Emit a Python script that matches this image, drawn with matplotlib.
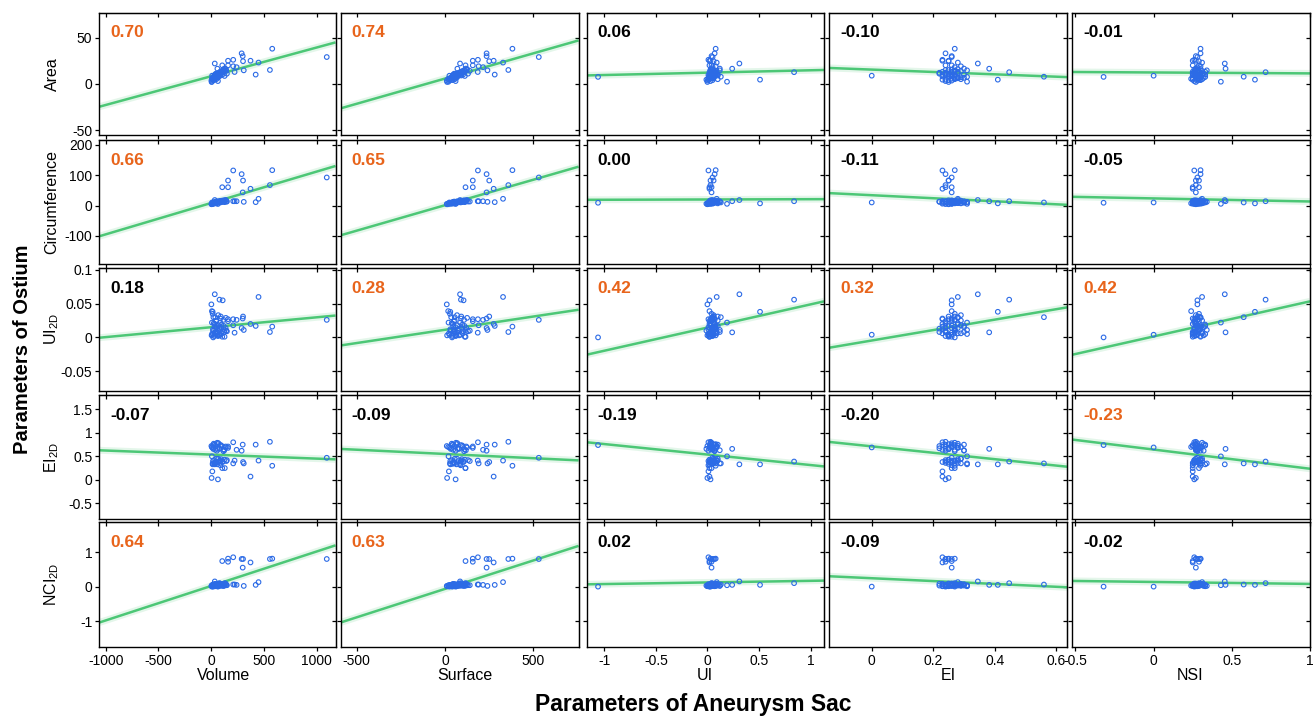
import numpy as np
import matplotlib
matplotlib.use('Agg')
import matplotlib.pyplot as plt
from matplotlib.ticker import FuncFormatter

plt.rcParams['font.family'] = ['Liberation Sans', 'DejaVu Sans']
plt.rcParams['mathtext.default'] = 'regular'

# --- per-case values ---
volume = [1097, 580, 558, 450, 423, 374, 303, 300, 310, 290, 242, 223, 210, 210, 161, 161, 106, 35, 145,
          20, 10, 60, 15, 80, 8, 40,
          5, 12, 65, 8, 15, 22, 30, 35, 40, 45, 50, 55, 60, 70, 75, 80, 85, 90, 95, 100, 110, 120, 130, 140, 150,
          3, 18, 25, 28, 38, 48, 58, 68, 78, 88, 98, 108, 118, 128, 138, 20, 42, 62, 92, 125]
surface = [530, 381, 358, 328, 281, 275, 250, 235, 240, 235, 215, 185, 186, 190, 157, 157, 116, 85, 140,
           40, 25, 70, 30, 90, 20, 55,
           12, 22, 60, 18, 28, 35, 40, 45, 48, 52, 55, 60, 65, 70, 75, 80, 85, 90, 95, 100, 105, 110, 115, 125, 130,
           10, 30, 38, 42, 46, 50, 62, 68, 78, 88, 98, 102, 108, 112, 120, 32, 50, 64, 92, 118]
ui = [0.05, 0.08, 0.03, 0.09, 0.10, 0.02, 0.06, 0.04, 0.12, 0.07, 0.05, 0.03, 0.01, 0.08, 0.03, 0.04, 0.02, 0.31, 0.06,
      -1.06, 0.02, 0.24, 0.51, 0.84, 0.19, 0.13,
      0.00, 0.01, 0.03, 0.02, 0.04, 0.05, 0.06, 0.07, 0.08, 0.09, 0.10, 0.01, 0.02, 0.03, 0.04, 0.05, 0.06, 0.07, 0.08, 0.09, 0.02, 0.03, 0.04, 0.05, 0.06,
      0.00, 0.01, 0.03, 0.05, 0.07, 0.02, 0.04, 0.06, 0.08, 0.01, 0.03, 0.05, 0.07, 0.02, 0.04, -0.01, 0.06, 0.08, 0.10, 0.12]
ei = [0.26, 0.27, 0.24, 0.28, 0.30, 0.23, 0.25, 0.26, 0.31, 0.24, 0.27, 0.26, 0.23, 0.29, 0.25, 0.24, 0.26, 0.345, 0.27,
      0.27, 0.00, 0.382, 0.41, 0.447, 0.31, 0.56,
      0.25, 0.23, 0.24, 0.26, 0.27, 0.28, 0.25, 0.24, 0.23, 0.22, 0.29, 0.30, 0.31, 0.26, 0.27, 0.25, 0.24, 0.23, 0.28, 0.29, 0.26, 0.25, 0.27, 0.28, 0.24,
      0.26, 0.27, 0.28, 0.25, 0.23, 0.26, 0.27, 0.29, 0.22, 0.26, 0.28, 0.24, 0.27, 0.25, 0.26, 0.24, 0.28, 0.25, 0.27, 0.30]
nsi = [0.28, 0.30, 0.27, 0.31, 0.33, 0.25, 0.29, 0.27, 0.34, 0.30, 0.28, 0.26, 0.26, 0.30, 0.27, 0.29, 0.25, 0.455, 0.29,
       -0.32, 0.00, 0.46, 0.648, 0.716, 0.43, 0.576,
       0.27, 0.25, 0.26, 0.24, 0.29, 0.30, 0.28, 0.27, 0.26, 0.25, 0.31, 0.32, 0.33, 0.28, 0.29, 0.27, 0.26, 0.25, 0.30, 0.31, 0.28, 0.27, 0.29, 0.30, 0.26,
       0.28, 0.29, 0.27, 0.30, 0.28, 0.26, 0.31, 0.27, 0.29, 0.25, 0.33, 0.27, 0.28, 0.30, 0.26, 0.29, 0.25, 0.32, 0.28, 0.27]

area = [29, 38, 15, 23, 10, 25, 24.5, 30, 14.6, 33, 18, 12.8, 26, 19, 25, 20, 20, 22, 14,
        7.5, 8.8, 16.4, 4.5, 12.6, 2.3, 7.7,
        2.0, 4.5, 3.0, 5.5, 6.0, 7.0, 8.0, 9.5, 10.0, 11.0, 5.0, 6.5, 7.5, 8.5, 9.0, 10.5, 12.0, 13.0, 11.5, 14.0, 12.5, 15.0, 13.5, 16.0, 11.0,
        3.5, 5.0, 6.5, 4.0, 8.0, 9.0, 10.0, 7.0, 12.0, 9.5, 13.0, 10.0, 14.5, 8.5, 15.5, 4.5, 6.0, 11.0, 9.0, 16.5]
circ = [92, 116, 67, 22, 11, 55, 82, 43, 12, 103, 14, 14, 115, 14, 82, 60, 60, 18, 13,
        9, 10, 14, 7, 14, 5.5, 10,
        4, 6, 5, 7, 8, 9, 10, 11, 12, 13, 7, 9, 10, 11, 12, 13, 14, 15, 12, 16, 14, 17, 15, 18, 13,
        5, 7, 8, 6, 9, 10, 11, 9, 12, 10, 14, 12, 16, 11, 17, 6, 8, 12, 11, 14]
ui2d = [0.026, 0.016, 0.008, 0.060, 0.017, 0.020, 0.031, 0.028, 0.011, 0.014, 0.026, 0.007, 0.027, 0.018, 0.027, 0.024, 0.001, 0.064, 0.010,
        0.000, 0.004, 0.0075, 0.038, 0.056, 0.022, 0.030,
        0.003, 0.006, 0.002, 0.039, 0.035, 0.030, 0.004, 0.020, 0.012, 0.008, 0.025, 0.015, 0.005, 0.018, 0.010, 0.003, 0.022, 0.028, 0.014, 0.006, 0.055, 0.017, 0.011, 0.029, 0.009,
        0.049, 0.012, 0.021, 0.002, 0.016, 0.024, 0.007, 0.033, 0.013, 0.004, 0.019, 0.009, 0.026, 0.001, 0.014, 0.010, 0.006, 0.003, 0.031, 0.008]
ei2d = [0.47, 0.30, 0.81, 0.41, 0.75, 0.07, 0.38, 0.75, 0.35, 0.62, 0.64, 0.41, 0.80, 0.35, 0.68, 0.71, 0.25, 0.33, 0.40,
        0.74, 0.69, 0.66, 0.33, 0.39, 0.50, 0.35,
        0.04, 0.18, 0.01, 0.70, 0.35, 0.68, 0.42, 0.75, 0.38, 0.72, 0.45, 0.62, 0.33, 0.78, 0.40, 0.66, 0.36, 0.74, 0.44, 0.70, 0.38, 0.65, 0.25, 0.69, 0.42,
        0.72, 0.40, 0.77, 0.34, 0.64, 0.37, 0.79, 0.45, 0.67, 0.31, 0.73, 0.39, 0.61, 0.43, 0.71, 0.66, 0.36, 0.76, 0.41, 0.63]
nci = [0.80, 0.81, 0.80, 0.13, 0.05, 0.70, 0.80, 0.55, 0.02, 0.80, 0.05, 0.06, 0.85, 0.06, 0.81, 0.72, 0.74, 0.15, 0.04,
       0.00, 0.00, 0.05, 0.05, 0.10, 0.04, 0.06,
       0.01, 0.02, 0.00, 0.03, 0.04, 0.05, 0.02, 0.06, 0.08, 0.03, 0.04, 0.07, 0.01, 0.05, 0.02, 0.09, 0.03, 0.06, 0.04, 0.08, 0.05, 0.02, 0.10, 0.06, 0.04,
       0.02, 0.05, 0.03, 0.07, 0.01, 0.06, 0.04, 0.02, 0.08, 0.03, 0.05, 0.02, 0.07, 0.04, 0.09, 0.03, 0.05, 0.02, 0.06, 0.03]

sac_names = ['Volume', 'Surface', 'UI', 'EI', 'NSI']
ostium_names = ['Area', 'Circumference', 'UI$_{2D}$', 'EI$_{2D}$', 'NCI$_{2D}$']

# correlation coefficients and whether they are significant (orange)
corr = [[0.70, 0.74, 0.06, -0.10, -0.01],
        [0.66, 0.65, 0.00, -0.11, -0.05],
        [0.18, 0.28, 0.42, 0.32, 0.42],
        [-0.07, -0.09, -0.19, -0.20, -0.23],
        [0.64, 0.63, 0.02, -0.09, -0.02]]
signif = [[1, 1, 0, 0, 0],
          [1, 1, 0, 0, 0],
          [0, 1, 1, 1, 1],
          [0, 0, 0, 0, 1],
          [1, 1, 0, 0, 0]]

# regression lines (intercept, slope)
fits = [[(8.17, 0.0311), (5.7, 0.0547), (12.1, 2.57), (15.4, -12.8), (12.3, -1.0)],
        [(8.2, 0.103), (1.0, 0.1675), (19.8, 0.96), (33.8, -49.7), (23.3, -10.1)],
        [(0.0151, 1.47e-5), (0.0113, 3.94e-5), (0.0146, 0.0344), (-0.0046, 0.0774), (0.0014, 0.0521)],
        [(0.538, -8.6e-5), (0.551, -1.81e-4), (0.5385, -0.2235), (0.713, -0.682), (0.645, -0.4086)],
        [(0.018, 9.98e-4), (-0.066, 1.65e-3), (0.121, 0.0465), (0.243, -0.413), (0.135, -0.057)]]

xlims = [(-1060, 1180), (-590, 755), (-1.17, 1.13), (-0.138, 0.636), (-0.52, 1.0)]
xticks = [[-1000, -500, 0, 500, 1000], [-500, 0, 500], [-1, -0.5, 0, 0.5, 1],
          [0, 0.2, 0.4, 0.6], [-0.5, 0, 0.5, 1]]
ylims = [(-55.4, 77), (-192, 216), (-0.0795, 0.1034), (-0.84, 1.8), (-1.74, 1.88)]
yticks = [[-50, 0, 50], [-100, 0, 100, 200], [-0.05, 0, 0.05, 0.1],
          [-0.5, 0, 0.5, 1, 1.5], [-1, 0, 1]]

sac = [volume, surface, ui, ei, nsi]
ost = [area, circ, ui2d, ei2d, nci]

W, H = 1315, 718
col_px = [(99.3, 335.5), (340.6, 578.6), (586.7, 824.0), (829.3, 1067.3), (1072.3, 1310.0)]
row_px = [(12.7, 135.0), (139.7, 264.0), (267.7, 391.0), (395.3, 519.3), (521.7, 646.7)]
xlabel_px = [224, 465, 705, 948, 1190]

blue = '#2C6BE6'
green = '#4CC776'
orange = '#E8641B'
fmt = FuncFormatter(lambda v, p: '%g' % v)

fig = plt.figure(figsize=(W / 100, H / 100), dpi=100)

for i in range(5):
    for j in range(5):
        x0, x1 = col_px[j]
        y0, y1 = row_px[i]
        ax = fig.add_axes([x0 / W, 1 - y1 / H, (x1 - x0) / W, (y1 - y0) / H])
        xl = np.array(xlims[j])
        b, m = fits[i][j]
        ax.plot(xl, b + m * xl, color=green, lw=5, alpha=0.15, solid_capstyle='butt')
        ax.plot(xl, b + m * xl, color=green, lw=1.8, solid_capstyle='butt')
        ax.scatter(sac[j], ost[i], s=11, facecolors='none', edgecolors=blue,
                   linewidths=0.8, zorder=3)
        ax.set_xlim(xl)
        ax.set_ylim(ylims[i])
        ax.set_xticks(xticks[j])
        ax.set_yticks(yticks[i])
        ax.xaxis.set_major_formatter(fmt)
        ax.yaxis.set_major_formatter(fmt)
        ax.tick_params(direction='out', length=3, width=0.9, labelsize=10, pad=2,
                       labelleft=(j == 0), labelbottom=(i == 4))
        for s in ax.spines.values():
            s.set_linewidth(1.0)
        sx = ax.secondary_xaxis('top')
        sx.set_xticks(xticks[j])
        sx.tick_params(direction='in', length=3, width=0.9, labeltop=False)
        sy = ax.secondary_yaxis('right')
        sy.set_yticks(yticks[i])
        sy.tick_params(direction='in', length=3, width=0.9, labelright=False)

        ax.text(0.045, 0.835, '%.2f' % corr[i][j], transform=ax.transAxes,
                fontsize=12.5, fontweight='bold', va='center', ha='left',
                color=orange if signif[i][j] else 'black')

for i in range(5):
    yc = (row_px[i][0] + row_px[i][1]) / 2
    fig.text(52 / W, 1 - yc / H, ostium_names[i], rotation=90, ha='center',
             va='center', fontsize=11.5)
for j in range(5):
    fig.text(xlabel_px[j] / W, 1 - 675 / H, sac_names[j], ha='center', va='center',
             fontsize=11.5)

fig.text(23 / W, 1 - 349 / H, 'Parameters of Ostium', rotation=90, ha='center',
         va='center', fontsize=14.5, fontweight='bold')
fig.text(693 / W, 1 - 705 / H, 'Parameters of Aneurysm Sac', ha='center',
         va='center', fontsize=16.5, fontweight='bold')

fig.savefig('out.png', dpi=100)
